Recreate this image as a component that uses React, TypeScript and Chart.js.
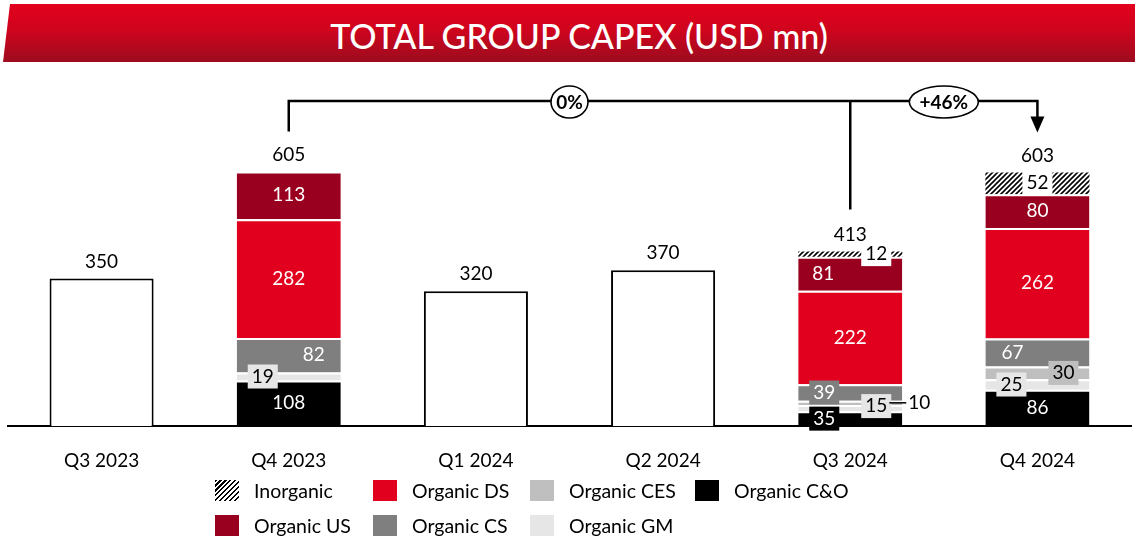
import React, { useEffect, useRef } from 'react';
import { Chart, registerables } from 'chart.js';

Chart.register(...registerables);

// ---------- data ----------
const categories = ['Q3 2023', 'Q4 2023', 'Q1 2024', 'Q2 2024', 'Q3 2024', 'Q4 2024'];
const totalOnly = [350, null, 320, 370, null, null];
const organicCO = [null, 108, null, null, 35, 86];
const organicGM = [null, 19, null, null, 15, 25];
const organicCES = [null, null, null, null, 10, 30];
const organicCS = [null, 82, null, null, 39, 67];
const organicDS = [null, 282, null, null, 222, 262];
const organicUS = [null, 113, null, null, 81, 80];
const inorganic = [null, null, null, null, 12, 52];
const totalLabels = [350, 605, 320, 370, 413, 603];
const changeLabels = ['0%', '+46%'];
const titleText = 'TOTAL GROUP CAPEX (USD mn)';

// ---------- styles ----------
const FONT = 'Lato, "Open Sans", sans-serif';
const COLORS: Record<string, string> = {
  CO: '#000000',
  GM: '#e7e6e6',
  CES: '#bfbfbf',
  CS: '#7f7f7f',
  DS: '#e1001e',
  US: '#99001f',
  INO: 'hatch',
};

const series = [
  { key: 'CO', label: 'Organic C&O', data: organicCO },
  { key: 'GM', label: 'Organic GM', data: organicGM },
  { key: 'CES', label: 'Organic CES', data: organicCES },
  { key: 'CS', label: 'Organic CS', data: organicCS },
  { key: 'DS', label: 'Organic DS', data: organicDS },
  { key: 'US', label: 'Organic US', data: organicUS },
  { key: 'INO', label: 'Inorganic', data: inorganic },
];

// legend grid (column-major in the original)
const legendLayout = [
  { key: 'INO', x: 215, row: 0 },
  { key: 'DS', x: 373, row: 0 },
  { key: 'CES', x: 530, row: 0 },
  { key: 'CO', x: 695, row: 0 },
  { key: 'US', x: 215, row: 1 },
  { key: 'CS', x: 373, row: 1 },
  { key: 'GM', x: 530, row: 1 },
];

const labelLayout: Record<string, { dx?: number; dy?: number; box?: string; color?: string; leader?: boolean }> = {
  'CS-1': { dx: 25 },
  'GM-1': { dx: -26, box: '#e7e6e6', color: '#000' },
  'INO-4': { dx: 26, box: '#ffffff', color: '#000' },
  'US-4': { dx: -27 },
  'CS-4': { dx: -26, box: '#7f7f7f' },
  'CES-4': { leader: true, color: '#000' },
  'GM-4': { dx: 26, dy: -2, box: '#e7e6e6', color: '#000' },
  'CO-4': { dx: -26, box: '#000000' },
  'INO-5': { box: '#ffffff', color: '#000' },
  'CS-5': { dx: -25 },
  'CES-5': { dx: 26, box: '#bfbfbf', color: '#000' },
  'GM-5': { dx: -26, box: '#e7e6e6', color: '#000' },
};

function makeHatch(): CanvasPattern | string {
  const c = document.createElement('canvas');
  const s = 5;
  c.width = s;
  c.height = s;
  const g = c.getContext('2d');
  if (!g) return '#888';
  g.fillStyle = '#fff';
  g.fillRect(0, 0, s, s);
  g.strokeStyle = '#000';
  g.lineWidth = 1.6;
  g.beginPath();
  g.moveTo(0, s);
  g.lineTo(s, 0);
  g.moveTo(-s / 2, s / 2);
  g.lineTo(s / 2, -s / 2);
  g.moveTo(s / 2, s * 1.5);
  g.lineTo(s * 1.5, s / 2);
  g.stroke();
  return g.createPattern(c, 'repeat') || '#888';
}

function stackSum(chart: any, i: number): number {
  let sum = 0;
  chart.data.datasets.forEach((ds: any) => {
    const v = ds.data[i];
    if (typeof v === 'number') sum += v;
  });
  return sum;
}

const labelsPlugin = {
  id: 'segLabels',
  afterDatasetsDraw(chart: any) {
    const ctx = chart.ctx as CanvasRenderingContext2D;
    const yScale = chart.scales.y;
    const xScale = chart.scales.x;
    ctx.save();
    ctx.font = `19px ${FONT}`;
    ctx.textAlign = 'center';
    ctx.textBaseline = 'middle';
    chart.data.datasets.forEach((ds: any, di: number) => {
      if (ds.key === 'TOTAL') return;
      const meta = chart.getDatasetMeta(di);
      meta.data.forEach((el: any, i: number) => {
        const v = ds.data[i];
        if (v == null) return;
        const { x, y, base, width } = el.getProps(['x', 'y', 'base', 'width'], true);
        const st = labelLayout[`${ds.key}-${i}`] || {};
        const cy = (y + base) / 2 + (st.dy || 0);
        const text = String(v);
        const color = st.color || '#ffffff';
        if (st.leader) {
          const right = x + width / 2;
          ctx.strokeStyle = '#000';
          ctx.lineWidth = 1.5;
          ctx.beginPath();
          ctx.moveTo(right - 13, cy);
          ctx.lineTo(right + 4, cy);
          ctx.stroke();
          ctx.fillStyle = color;
          ctx.textAlign = 'left';
          ctx.fillText(text, right + 6, cy);
          ctx.textAlign = 'center';
          return;
        }
        const cx = x + (st.dx || 0);
        if (st.box) {
          const w = ctx.measureText(text).width + 8;
          const h = 24;
          ctx.fillStyle = st.box;
          ctx.fillRect(cx - w / 2, cy - h / 2, w, h);
        }
        ctx.fillStyle = color;
        ctx.fillText(text, cx, cy);
      });
    });
    // totals above bars
    ctx.fillStyle = '#000';
    totalLabels.forEach((t, i) => {
      const top = yScale.getPixelForValue(stackSum(chart, i));
      ctx.fillText(String(t), xScale.getPixelForValue(i), top - 17);
    });
    ctx.restore();
  },
};

const bracketPlugin = {
  id: 'bracket',
  afterDraw(chart: any) {
    const ctx = chart.ctx as CanvasRenderingContext2D;
    const xs = chart.scales.x;
    const ys = chart.scales.y;
    const x1 = xs.getPixelForValue(1);
    const x4 = xs.getPixelForValue(4);
    const x5 = xs.getPixelForValue(5);
    const lineY = chart.chartArea.top + 12;
    const end1 = ys.getPixelForValue(stackSum(chart, 1)) - 40;
    const end4 = ys.getPixelForValue(stackSum(chart, 4)) - 42;
    const end5 = ys.getPixelForValue(stackSum(chart, 5)) - 40;
    ctx.save();
    ctx.strokeStyle = '#000';
    ctx.lineWidth = 2.5;
    ctx.beginPath();
    ctx.moveTo(x1, end1);
    ctx.lineTo(x1, lineY);
    ctx.lineTo(x5, lineY);
    ctx.lineTo(x5, end5 - 15);
    ctx.moveTo(x4, lineY);
    ctx.lineTo(x4, end4);
    ctx.stroke();
    ctx.fillStyle = '#000';
    ctx.beginPath();
    ctx.moveTo(x5 - 7, end5 - 16);
    ctx.lineTo(x5 + 7, end5 - 16);
    ctx.lineTo(x5, end5);
    ctx.closePath();
    ctx.fill();

    const ellipses = [
      { cx: (x1 + x4) / 2, rx: 18.5, text: changeLabels[0] },
      { cx: (x4 + x5) / 2, rx: 34.5, text: changeLabels[1] },
    ];
    ctx.font = `bold 19px ${FONT}`;
    ctx.textAlign = 'center';
    ctx.textBaseline = 'middle';
    ellipses.forEach((e) => {
      ctx.beginPath();
      ctx.ellipse(e.cx, lineY + 1, e.rx, 16, 0, 0, Math.PI * 2);
      ctx.fillStyle = '#fff';
      ctx.fill();
      ctx.lineWidth = 1.6;
      ctx.strokeStyle = '#000';
      ctx.stroke();
      ctx.fillStyle = '#000';
      ctx.fillText(e.text, e.cx, lineY + 2);
    });
    ctx.restore();
  },
};

export default function App() {
  const canvasRef = useRef<HTMLCanvasElement | null>(null);

  useEffect(() => {
    const canvas = canvasRef.current;
    if (!canvas) return;
    const hatch = makeHatch();
    const datasets: any[] = series.map((s) => ({
      key: s.key,
      label: s.label,
      data: s.data,
      backgroundColor: s.key === 'INO' ? hatch : COLORS[s.key],
      borderColor: '#ffffff',
      borderWidth: s.key === 'INO' ? 0 : { top: 2, right: 0, bottom: 0, left: 0 },
      borderSkipped: false,
      stack: 'capex',
    }));
    datasets.unshift({
      key: 'TOTAL',
      label: 'Total',
      data: totalOnly,
      backgroundColor: '#ffffff',
      borderColor: '#000000',
      borderWidth: 2,
      borderSkipped: 'bottom',
      stack: 'capex',
    });

    const chart = new Chart(canvas, {
      type: 'bar',
      data: { labels: categories, datasets },
      options: {
        responsive: false,
        animation: false,
        devicePixelRatio: 1,
        layout: { padding: { left: 8, right: 4, top: 89, bottom: 0 } },
        datasets: { bar: { categoryPercentage: 1, barPercentage: 0.556 } },
        plugins: {
          legend: { display: false },
          tooltip: { enabled: false },
          title: { display: false },
        },
        scales: {
          x: {
            stacked: true,
            grid: { display: false },
            border: { display: true, color: '#000', width: 2 },
            ticks: { color: '#000', font: { family: FONT, size: 19 }, padding: 15 },
            afterFit: (scale: any) => {
              scale.height = 113;
            },
          },
          y: {
            stacked: true,
            display: false,
            min: 0,
            max: 800,
          },
        },
      } as any,
      plugins: [labelsPlugin, bracketPlugin],
    });
    return () => chart.destroy();
  }, []);

  const byKey: Record<string, string> = {};
  series.forEach((s) => (byKey[s.key] = s.label));

  return (
    <div
      style={{
        position: 'fixed',
        left: 0,
        top: 0,
        width: 1135,
        height: 539,
        background: '#fff',
        overflow: 'hidden',
        fontFamily: FONT,
      }}
    >
      <div
        style={{
          position: 'absolute',
          left: 0,
          top: 4,
          width: 1135,
          height: 58,
          clipPath: 'polygon(10px 0, 100% 0, 100% 100%, 3px 100%)',
          background: 'linear-gradient(to bottom, #e2001d 0%, #cf041d 45%, #9c0c1f 100%)',
        }}
      />
      <div
        style={{
          position: 'absolute',
          left: 0,
          top: 6,
          width: 1158,
          height: 58,
          display: 'flex',
          alignItems: 'center',
          justifyContent: 'center',
          color: '#fff',
          fontSize: 34,
          fontWeight: 500,
          whiteSpace: 'nowrap',
        }}
      >
        {titleText}
      </div>
      <canvas ref={canvasRef} width={1135} height={539} style={{ position: 'absolute', left: 0, top: 0 }} />
      {legendLayout.map((l) => (
        <div
          key={l.key}
          style={{
            position: 'absolute',
            left: l.x,
            top: l.row === 0 ? 479 : 514,
            height: 22,
            display: 'flex',
            alignItems: 'center',
            whiteSpace: 'nowrap',
            fontSize: 19.5,
            color: '#000',
          }}
        >
          <span
            style={{
              display: 'inline-block',
              width: 24,
              height: 21,
              marginRight: 15,
              background:
                l.key === 'INO'
                  ? 'repeating-linear-gradient(135deg, #000 0px, #000 1.5px, #fff 1.5px, #fff 3.5px)'
                  : COLORS[l.key],
            }}
          />
          <span>{byKey[l.key]}</span>
        </div>
      ))}
    </div>
  );
}
